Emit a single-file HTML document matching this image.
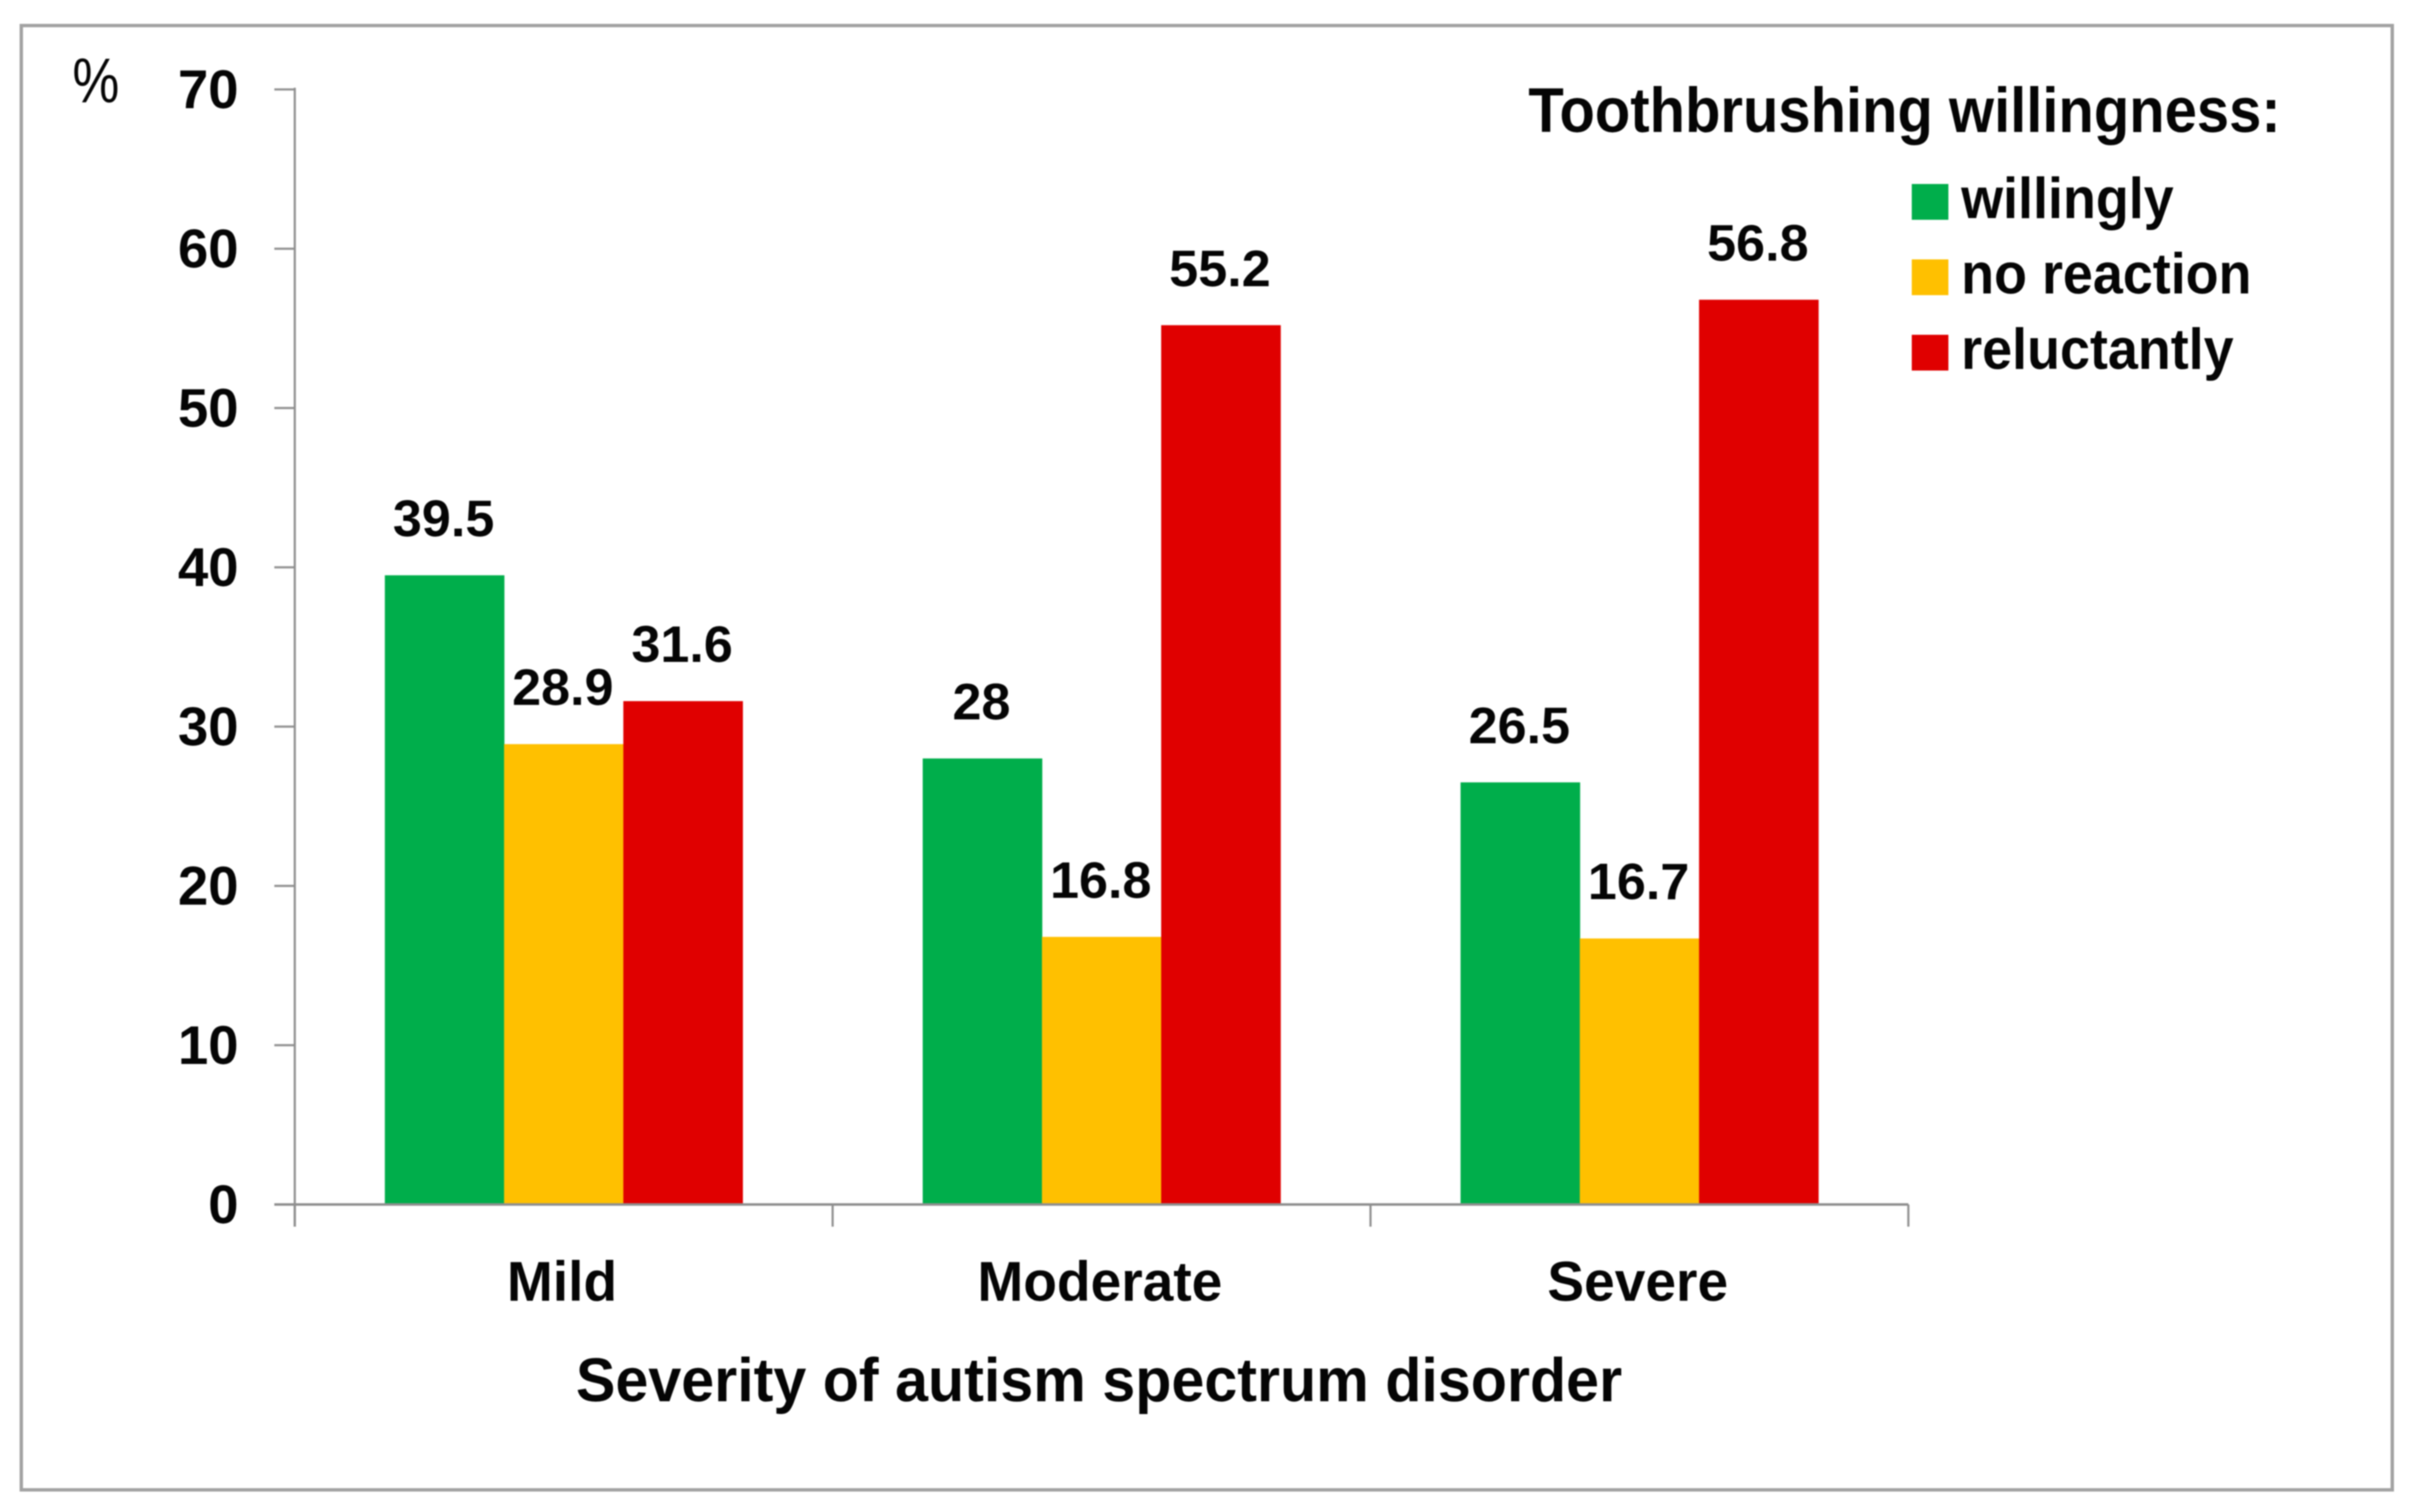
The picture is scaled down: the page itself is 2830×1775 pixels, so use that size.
<!DOCTYPE html>
<html lang="en">
<head>
<meta charset="utf-8">
<title>Toothbrushing willingness by severity of autism spectrum disorder</title>
<style>
  html, body { margin: 0; padding: 0; background: #ffffff; }
  #chart { display: block; width: 2830px; height: 1775px; }
  text { font-family: "Liberation Sans", Arial, sans-serif; font-weight: 700; fill: #050505; }
</style>
</head>
<body>
<svg id="chart" xmlns="http://www.w3.org/2000/svg" width="2830" height="1775" viewBox="0 0 2830 1775">
  <rect x="0" y="0" width="2830" height="1775" fill="#ffffff"></rect>
  <g id="root" style="filter: blur(0.9px)">
    <rect x="25" y="30" width="2783" height="1719" fill="#ffffff" stroke="#a3a3a3" stroke-width="4"></rect>
    <g id="bars"></g>
    <g id="axes"></g>
    <g id="value-labels"></g>
    <text x="85" y="120" font-size="74" textLength="55" lengthAdjust="spacingAndGlyphs" style="font-weight:400">%</text>
    <text x="676" y="1645" font-size="72" textLength="1228" lengthAdjust="spacingAndGlyphs">Severity of autism spectrum disorder</text>
    <text x="1794" y="155" font-size="74" textLength="883" lengthAdjust="spacingAndGlyphs">Toothbrushing willingness:</text>
    <g id="legend"></g>
  </g>
</svg>
<script>
var categories = ["Mild", "Moderate", "Severe"];
var seriesNames = ["willingly", "no reaction", "reluctantly"];
var willingly = [39.5, 28, 26.5];
var noReaction = [28.9, 16.8, 16.7];
var reluctantly = [31.6, 55.2, 56.8];
var yTicks = [0, 10, 20, 30, 40, 50, 60, 70];

var seriesValues = [willingly, noReaction, reluctantly];
var seriesColors = ["#00ae4b", "#ffc000", "#e00000"];
var NS = "http://www.w3.org/2000/svg";

var plotLeft = 346, plotRight = 2240, plotBottom = 1414, plotTop = 105, yMax = 70;
function yScale(v) { return plotBottom - (v / yMax) * (plotBottom - plotTop); }
function bandWidth() { return (plotRight - plotLeft) / categories.length; }
function xBand(i) { return plotLeft + i * bandWidth(); }
function barWidth() { return bandWidth() * 0.2217; }
function xBar(c, s) {
  var groupWidth = barWidth() * seriesValues.length;
  return xBand(c) + (bandWidth() - groupWidth) / 2 + s * barWidth();
}
function make(tag, attrs, parent) {
  var el = document.createElementNS(NS, tag);
  for (var k in attrs) { el.setAttribute(k, attrs[k]); }
  parent.appendChild(el);
  return el;
}
function stretched(str, x, y, size, sx, anchor, parent) {
  var t = make("text", { transform: "translate(" + x + "," + y + ") scale(" + sx + ",1)", "font-size": size, "text-anchor": anchor }, parent);
  t.textContent = str;
  return t;
}

var barsG = document.getElementById("bars");
var axesG = document.getElementById("axes");
var labelsG = document.getElementById("value-labels");
var legendG = document.getElementById("legend");

seriesValues.forEach(function (values, s) {
  values.forEach(function (v, c) {
    var bar = make("rect", { x: xBar(c, s), y: yScale(v), width: barWidth() + 0.4, height: plotBottom - yScale(v), fill: seriesColors[s] }, barsG);
    
    
    var label = stretched(String(v), xBar(c, s) + barWidth() / 2 - 1, yScale(v) - 46, 60, 1.02, "middle", labelsG);
    
    
  });
});

var yAxis = make("line", { x1: plotLeft, y1: 103, x2: plotLeft, y2: plotBottom + 26, stroke: "#8f8f8f", "stroke-width": 2.5 }, axesG);


var xAxis = make("line", { x1: plotLeft - 24, y1: plotBottom, x2: plotRight, y2: plotBottom, stroke: "#8f8f8f", "stroke-width": 3 }, axesG);



yTicks.forEach(function (t) {
  var tick = make("line", { x1: plotLeft - 24, y1: yScale(t), x2: plotLeft, y2: yScale(t), stroke: "#8f8f8f", "stroke-width": 2.5 }, axesG);
  
  
  var lab = stretched(String(t), 280, yScale(t) + 22, 64, 1.0, "end", axesG);
  
  
});

for (var i = 0; i <= categories.length; i++) {
  var xt = make("line", { x1: xBand(i), y1: plotBottom, x2: xBand(i), y2: plotBottom + 26, stroke: "#8f8f8f", "stroke-width": 2.5 }, axesG);
  
  
}
categories.forEach(function (name, c) {
  var cl = stretched(name, xBand(c) + bandWidth() / 2 - 2, 1527, 66, 0.98, "middle", axesG);
  
  
});

seriesNames.forEach(function (name, s) {
  var rowY = 216 + s * 88.5;
  var sw = make("rect", { x: 2244, y: rowY, width: 43, height: 42, fill: seriesColors[s] }, legendG);
  
  
  var lt = stretched(name, 2302, rowY + 40, 68, 0.93, "start", legendG);
  
  
});
</script>
</body>
</html>
